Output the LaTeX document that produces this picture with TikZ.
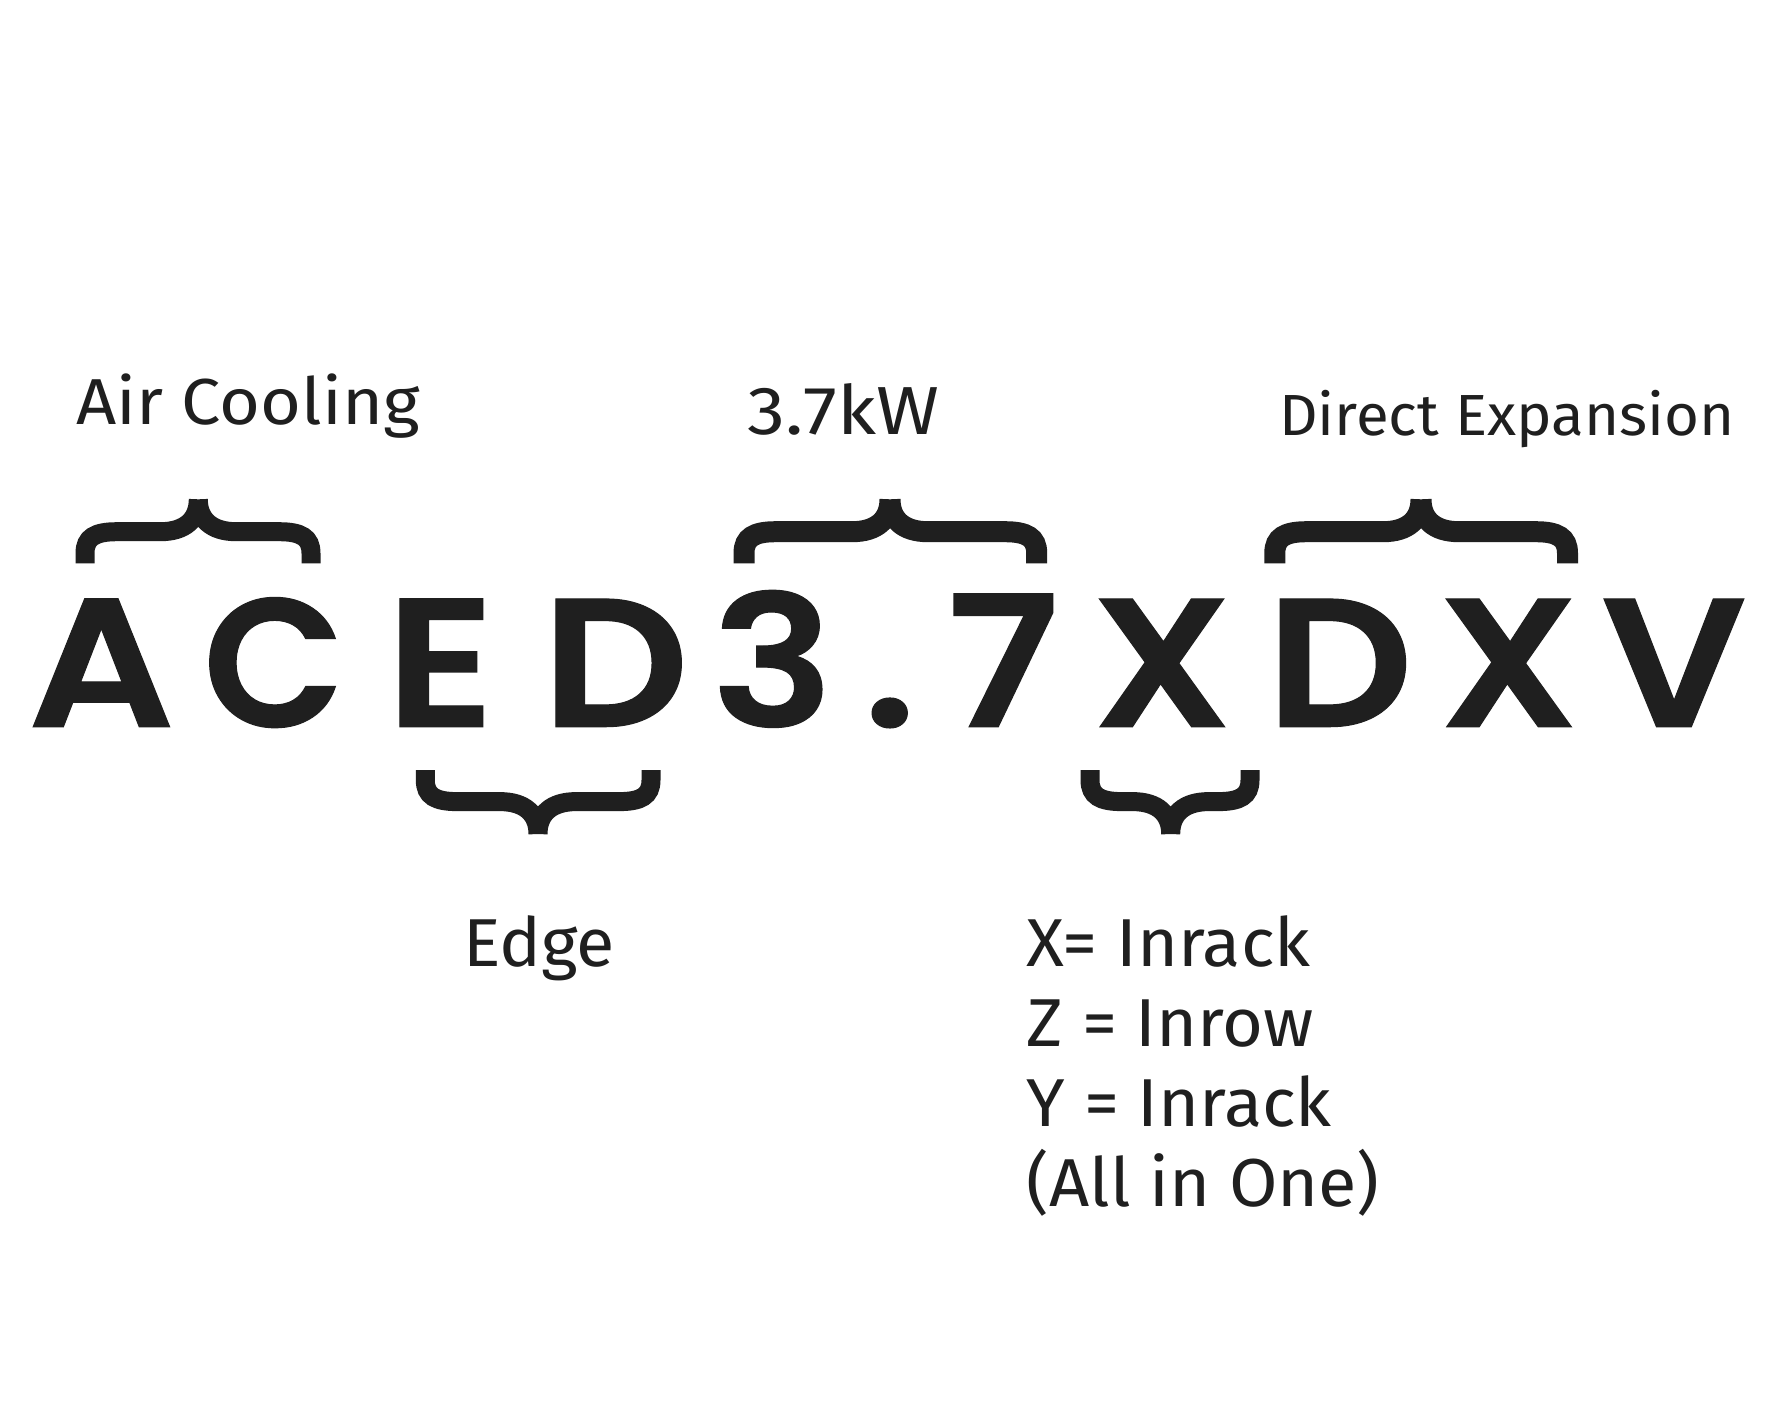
\documentclass[tikz,border=0pt]{standalone}
\usepackage{fontspec}
\setmainfont{Fira Sans}[FakeStretch=1.035]
\newfontfamily\widefont{Fira Sans}[FakeStretch=1.08]
\newfontfamily\widerfont{Fira Sans}[FakeStretch=1.12]
\newfontfamily\codefont{Poppins SemiBold}[FakeStretch=1.12, FakeBold=0.6]
\usepackage{tikz}
\usetikzlibrary{positioning}
\definecolor{ink}{HTML}{1F1F1F}

% curly brace: [width] {left x}{tip x}{right x}{end y}{direction}
\newcommand{\curly}[6][19]{%
  \draw[draw=ink, line width=#1pt]
    (#2,#5) -- (#2,{#5+(#6)*10})
      .. controls (#2,{#5+(#6)*26}) and ({#2+10},{#5+(#6)*31.6}) .. ({#2+32},{#5+(#6)*31.6})
      -- ({#3-38},{#5+(#6)*31.6})
      .. controls ({#3-13},{#5+(#6)*31.6}) and (#3,{#5+(#6)*44}) .. (#3,{#5+(#6)*64})
    (#4,#5) -- (#4,{#5+(#6)*10})
      .. controls (#4,{#5+(#6)*26}) and ({#4-10},{#5+(#6)*31.6}) .. ({#4-32},{#5+(#6)*31.6})
      -- ({#3+38},{#5+(#6)*31.6})
      .. controls ({#3+13},{#5+(#6)*31.6}) and (#3,{#5+(#6)*44}) .. (#3,{#5+(#6)*64});
}

\begin{document}
\begin{tikzpicture}[x=1pt, y=-1pt]
\tikzstyle{letter}=[inner sep=0pt, anchor=base, text=ink,
  font=\codefont\fontsize{183}{183}\selectfont]
\tikzstyle{note}=[inner sep=0pt, anchor=base west, text=ink]

\fill[white] (0,0) rectangle (1772,1417);
\useasboundingbox (0,0) rectangle (1772,1417);

% model code
\node (cA) [letter] at (101.3,726.7) {A};
\node (cC) [letter] at (274,726.7) {\scalebox{0.9}[1]{C}};
\node (cE) [letter] at (440.3,726.7) {E};
\node (cD) [letter] at (615.3,726.7) {D};
\node (c3) [letter] at (772.5,726.7) {3};
\node (cdot) [letter] at (889.7,726.7) {.};
\node (c7) [letter] at (1003,726.7) {7};
\node (cX) [letter] at (1162,726.7) {X};
\node (cD2) [letter] at (1339.5,726.7) {D};
\node (cX2) [letter] at (1508.7,726.7) {X};
\node (cV) [letter] at (1674,726.7) {V};

% braces
\curly[19]{85}{198.3}{311}{563.3}{-1}
\curly[21]{744}{890}{1036.7}{563.3}{-1}
\curly[21]{1274.8}{1421}{1567.5}{563.3}{-1}
\curly[19]{425.3}{538}{651}{770}{1}
\curly[19]{1090}{1170.7}{1250}{770}{1}

% labels above
\node (aircool) [note, font=\widefont\fontsize{65}{65}\selectfont] at (76,424.3) {Air Cooling};
\node (power) [note, font=\widerfont\fontsize{68}{68}\selectfont] at (747,434.3) {3.7kW};
\node (direct) [note, font=\fontsize{58}{58}\selectfont] at (1279,435) {Direct Expansion};

% labels below
\node (edge) [note, font=\fontsize{67.8}{67.8}\selectfont] at (463.3,966.7) {Edge};
\node (xline) [note, font=\fontsize{67.8}{67.8}\selectfont] at (1026.7,966.7) {X= Inrack};
\node (zline) [note, font=\fontsize{67.8}{67.8}\selectfont] at (1026.7,1046.7) {Z = Inrow};
\node (yline) [note, font=\fontsize{67.8}{67.8}\selectfont] at (1026.7,1126.7) {Y = Inrack};
\node (aline) [note, font=\fontsize{67.8}{67.8}\selectfont] at (1026.7,1206) {(All in One)};

\end{tikzpicture}
\end{document}
